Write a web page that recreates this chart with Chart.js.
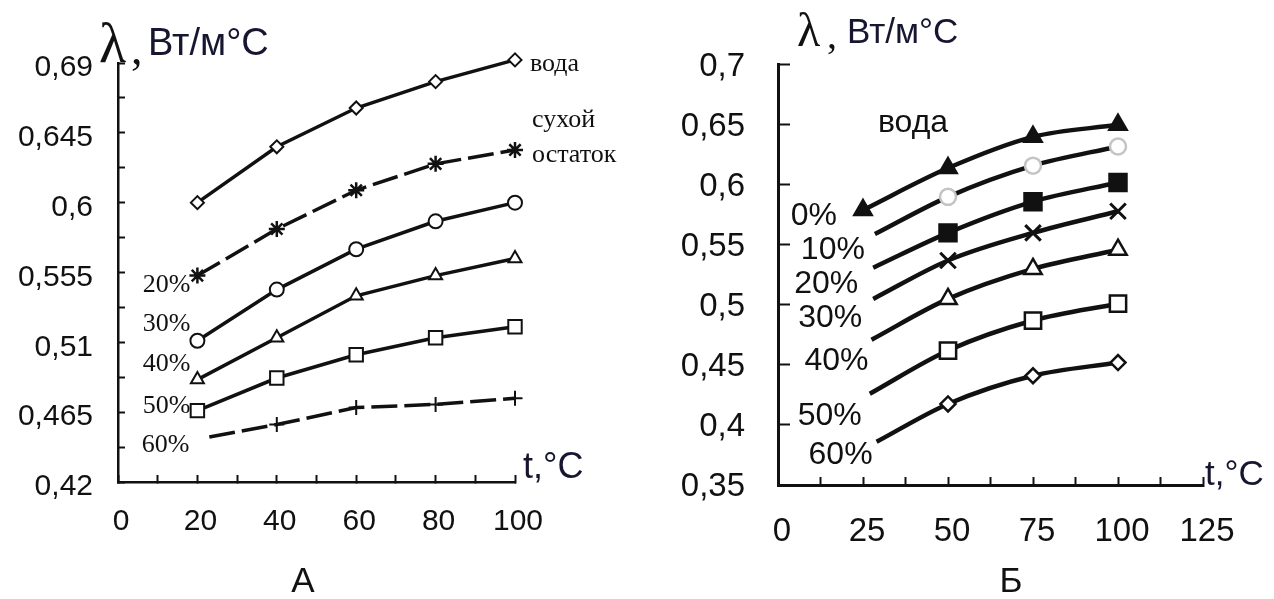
<!DOCTYPE html>
<html>
<head>
<meta charset="utf-8">
<script src="https://cdn.jsdelivr.net/npm/chart.js@4.4.1/dist/chart.umd.min.js"></script>
<style>
  body { margin: 0; background: #fff; width: 1274px; height: 599px; overflow: hidden; position: relative; }
  canvas { position: absolute; top: 0; }
  #chartA { left: 0; }
  #chartB { left: 640px; }
</style>
</head>
<body>
<canvas id="chartA" width="620" height="599"></canvas>
<canvas id="chartB" width="634" height="599"></canvas>
<script>
// panel A: thermal conductivity vs temperature, water / dry residue / solutions
const tA = [20, 40, 60, 80, 100];
const tA60 = [23, 40, 60, 80, 100];
const waterA = [0.600, 0.636, 0.661, 0.678, 0.692];
const dryA = [0.553, 0.583, 0.608, 0.625, 0.634];
const c30A = [0.511, 0.544, 0.570, 0.588, 0.600];
const c40A = [0.486, 0.513, 0.540, 0.553, 0.564];
const c50A = [0.466, 0.487, 0.502, 0.513, 0.520];
const c60A = [0.449, 0.457, 0.468, 0.470, 0.474];
const xTicksA = [0, 20, 40, 60, 80, 100];
const yTicksA = [0.42, 0.465, 0.51, 0.555, 0.6, 0.645, 0.69];
const startTagsA = ['', '20%', '30%', '40%', '50%', '60%'];
const endTagsA = ['вода', 'сухой\nостаток'];

// panel B: water and 10..60 % solutions
const tB = [50, 75, 100];
const tStartB = [25, 28.5, 28, 28, 27.5, 27, 29];
const waterB = [0.579, 0.614, 0.640, 0.650];
const c10B = [0.559, 0.590, 0.616, 0.632];
const c20B = [0.531, 0.560, 0.586, 0.602];
const c30B = [0.505, 0.537, 0.560, 0.578];
const c40B = [0.471, 0.505, 0.530, 0.546];
const c50B = [0.426, 0.462, 0.487, 0.501];
const c60B = [0.386, 0.4175, 0.441, 0.452];
const xTicksB = [0, 25, 50, 75, 100, 125];
const yTicksB = [0.35, 0.4, 0.45, 0.5, 0.55, 0.6, 0.65, 0.7];
const startTagsB = ['0%', '10%', '20%', '30%', '40%', '50%', '60%'];
const topTagB = 'вода';

const INK = '#111';
const pts = (xs, ys) => ys.map((y, i) => ({ x: xs[i], y }));
const comma = v => String(+v.toFixed(4)).replace('.', ',');
const withMinor = arr => arr.flatMap((v, i) => i ? [(arr[i - 1] + v) / 2, v] : [v]);

function axis(values, labeled, o) {
  return {
    type: 'linear',
    min: values[0],
    max: values[values.length - 1],
    afterBuildTicks: s => { s.ticks = values.map(v => ({ value: v })); },
    border: { color: INK, width: o.border },
    grid: { drawOnChartArea: false, tickLength: o.tick, tickWidth: 2, tickColor: INK },
    ticks: {
      autoSkip: false, maxRotation: 0, color: INK, padding: o.pad, labelOffset: o.off,
      font: { family: 'Liberation Sans', size: o.size },
      callback: v => labeled.some(m => Math.abs(m - v) < 1e-9) ? comma(v) : ''
    },
    afterFit: s => { if (o.w) s.width = o.w; if (o.h) s.height = o.h; }
  };
}

function series(xs, ys, st) {
  return Object.assign({
    data: pts(xs, ys),
    borderColor: INK, borderWidth: 3.5,
    pointBorderColor: INK, pointBackgroundColor: '#fff',
    pointBorderWidth: 2, pointRadius: 6, pointHoverRadius: 6,
    tension: 0, clip: false
  }, st);
}

// draws the series captions and the free text (axis names, panel letters)
function textPlugin(texts) {
  return {
    id: 'panelText',
    afterDatasetsDraw(chart) {
      const ctx = chart.ctx;
      ctx.save();
      ctx.textBaseline = 'alphabetic';
      chart.data.datasets.forEach((ds, i) => {
        const el = chart.getDatasetMeta(i).data;
        (ds.tags || []).forEach(t => {
          if (!t.text) return;
          const p = el[t.at];
          ctx.font = t.font;
          ctx.fillStyle = INK;
          ctx.textAlign = t.align;
          t.text.split('\n').forEach((s, k) => ctx.fillText(s, p.x + t.dx, p.y + t.dy + k * (t.lh || 0)));
        });
      });
      texts.forEach(t => {
        ctx.font = t.font;
        ctx.fillStyle = t.color || INK;
        ctx.textAlign = t.align || 'left';
        ctx.fillText(t.text, t.x, t.y);
      });
      ctx.restore();
    }
  };
}

const serifTag = '26px "Liberation Serif"';
const sansTag = '32px "Liberation Sans"';
const left = (text, dx, dy, font) => ({ text, at: 0, dx, dy, font, align: 'right' });

const dsA = [
  series(tA, waterA, { pointStyle: 'rectRot', pointRadius: 6.5,
    tags: [{ text: endTagsA[0], at: 4, dx: 15, dy: 11, font: serifTag, align: 'left' }] }),
  series(tA, dryA, { pointStyle: 'star', pointRadius: 8, pointBorderWidth: 2.5, borderDash: [26, 7],
    tags: [left(startTagsA[1], -7, 16, serifTag),
      { text: endTagsA[1], at: 4, dx: 17, dy: -23, lh: 35, font: serifTag, align: 'left' }] }),
  series(tA, c30A, { pointStyle: 'circle', pointRadius: 7, tags: [left(startTagsA[2], -7, -10, serifTag)] }),
  series(tA, c40A, { pointStyle: 'triangle', pointRadius: 7.5, tags: [left(startTagsA[3], -7, -9, serifTag)] }),
  series(tA, c50A, { pointStyle: 'rect', pointRadius: 9.5, tags: [left(startTagsA[4], -7, 2, serifTag)] }),
  series(tA60, c60A, { pointStyle: 'cross', pointRadius: [0, 7.5, 7.5, 7.5, 7.5], borderDash: [26, 7],
    tags: [left(startTagsA[5], -20, 15, serifTag)] })
];

new Chart(document.getElementById('chartA'), {
  type: 'line',
  data: { datasets: dsA },
  options: {
    responsive: false, animation: false, events: [],
    layout: { padding: { top: 63, right: 105, left: 0, bottom: 0 } },
    plugins: { legend: { display: false }, tooltip: { enabled: false } },
    scales: {
      x: axis(withMinor(xTicksA), xTicksA, { border: 2.5, tick: -7, pad: 29, off: 3, size: 30, h: 117 }),
      y: axis(withMinor(yTicksA), yTicksA, { border: 2.5, tick: -7, pad: 32, off: 5, size: 30, w: 118 })
    }
  },
  plugins: [textPlugin([
    { text: 'λ', x: 99, y: 62, font: '56px "Liberation Serif"' },
    { text: ',', x: 131, y: 64, font: '46px "Liberation Serif"' },
    { text: 'Вт/м°С', x: 148, y: 55, font: '38px "Liberation Sans"', color: '#161630' },
    { text: 't,°C', x: 523, y: 478, font: '36px "Liberation Sans"', color: '#161630' },
    { text: 'А', x: 303, y: 592, font: '35px "Liberation Sans"', align: 'center' }
  ])]
});

const xsB = i => [tStartB[i], ...tB];
const bStyle = { borderWidth: 4.5, tension: 0.35, cubicInterpolationMode: 'monotone', pointBorderWidth: 2.5 };
const dsB = [
  series(xsB(0), waterB, Object.assign({}, bStyle, { pointStyle: 'triangle', pointRadius: 10, pointBackgroundColor: INK,
    tags: [left(startTagsB[0], -26, 15, sansTag),
      { text: topTagB, at: 1, dx: -35, dy: -36, font: sansTag, align: 'center' }] })),
  series(xsB(1), c10B, Object.assign({}, bStyle, { pointStyle: 'circle', pointRadius: [0, 8, 8, 8],
    pointBorderColor: '#c4c4c4', tags: [left(startTagsB[1], -10, 25, sansTag)] })),
  series(xsB(2), c20B, Object.assign({}, bStyle, { pointStyle: 'rect', pointRadius: [0, 12, 12, 12],
    pointBackgroundColor: INK, tags: [left(startTagsB[2], -15, 25, sansTag)] })),
  series(xsB(3), c30B, Object.assign({}, bStyle, { pointStyle: 'crossRot', pointRadius: [0, 11, 11, 11],
    pointBorderWidth: 3, tags: [left(startTagsB[3], -11, 28, sansTag)] })),
  series(xsB(4), c40B, Object.assign({}, bStyle, { pointStyle: 'triangle', pointRadius: [0, 10, 10, 10],
    tags: [left(startTagsB[4], -3, 30, sansTag)] })),
  series(xsB(5), c50B, Object.assign({}, bStyle, { pointStyle: 'rect', pointRadius: [0, 11.5, 11.5, 11.5],
    tags: [left(startTagsB[5], -8, 31, sansTag)] })),
  series(xsB(6), c60B, Object.assign({}, bStyle, { pointStyle: 'rectRot', pointRadius: [0, 7.5, 7.5, 7.5],
    tags: [left(startTagsB[6], -4, 22, sansTag)] }))
];

new Chart(document.getElementById('chartB'), {
  type: 'line',
  data: { datasets: dsB },
  options: {
    responsive: false, animation: false, events: [],
    layout: { padding: { top: 44, right: 71, left: 0, bottom: 0 } },
    plugins: { legend: { display: false }, tooltip: { enabled: false } },
    scales: {
      x: axis(withMinor(xTicksB), xTicksB, { border: 3, tick: -8, pad: 35, off: 4, size: 33, h: 114 }),
      y: axis(yTicksB, yTicksB, { border: 3, tick: -12, pad: 45, off: 2, size: 33, w: 138 })
    }
  },
  plugins: [textPlugin([
    { text: 'λ', x: 157, y: 46, font: '48px "Liberation Serif"' },
    { text: ',', x: 187, y: 48, font: '40px "Liberation Serif"' },
    { text: 'Вт/м°С', x: 207, y: 43, font: '35px "Liberation Sans"', color: '#161630' },
    { text: 't,°C', x: 565, y: 485, font: '35px "Liberation Sans"', color: '#161630' },
    { text: 'Б', x: 371, y: 592, font: '35px "Liberation Sans"', align: 'center' }
  ])]
});
</script>
</body>
</html>
